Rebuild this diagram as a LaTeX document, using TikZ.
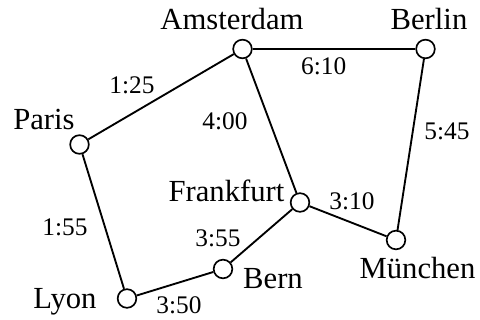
\documentclass[tikz,border=0pt]{standalone}
\usepackage{fontspec}
\setmainfont{Liberation Serif}
\begin{document}
\begin{tikzpicture}[x=0.75pt,y=-0.75pt,
  city/.style={circle,draw,line width=1.25pt,fill=white,inner sep=0pt,minimum size=14pt},
  road/.style={line width=1.4pt},
  cname/.style={anchor=base,inner sep=0pt,font=\fontsize{23}{26}\selectfont},
  tlabel/.style={anchor=base,inner sep=0pt,font=\fontsize{19}{22}\selectfont}]
\useasboundingbox (0,0) rectangle (480,320);
\node[city] (ams) at (242.5,49) {};
\node[city] (ber) at (425.5,49) {};
\node[city] (par) at (79.5,144.5) {};
\node[city] (fra) at (300,202.5) {};
\node[city] (mun) at (396,240) {};
\node[city] (brn) at (223,269) {};
\node[city] (lyo) at (127,298.5) {};
\draw[road] (ams) -- (ber);
\draw[road] (ams) -- (par);
\draw[road] (ams) -- (fra);
\draw[road] (ber) -- (mun);
\draw[road] (par) -- (lyo);
\draw[road] (lyo) -- (brn);
\draw[road] (brn) -- (fra);
\draw[road] (fra) -- (mun);
\node[cname] (lams) at (232,29.5) {Amsterdam};
\node[cname] (lber) at (429,29.5) {Berlin};
\node[cname] (lpar) at (44,129.5) {Paris};
\node[cname] (lfra) at (226.5,201.5) {Frankfurt};
\node[cname] (lmun) at (417.5,278.5) {München};
\node[cname] (lbrn) at (273,288.5) {Bern};
\node[cname] (llyo) at (65,308.5) {Lyon};
\node[tlabel] (t1) at (132,93.3) {1:25};
\node[tlabel] (t2) at (323.7,75) {6:10};
\node[tlabel] (t3) at (447,139.3) {5:45};
\node[tlabel] (t4) at (225,130) {4:00};
\node[tlabel] (t5) at (352,209.3) {3:10};
\node[tlabel] (t6) at (218,246.5) {3:55};
\node[tlabel] (t7) at (65,236) {1:55};
\node[tlabel] (t8) at (179,313.3) {3:50};
\end{tikzpicture}
\end{document}
